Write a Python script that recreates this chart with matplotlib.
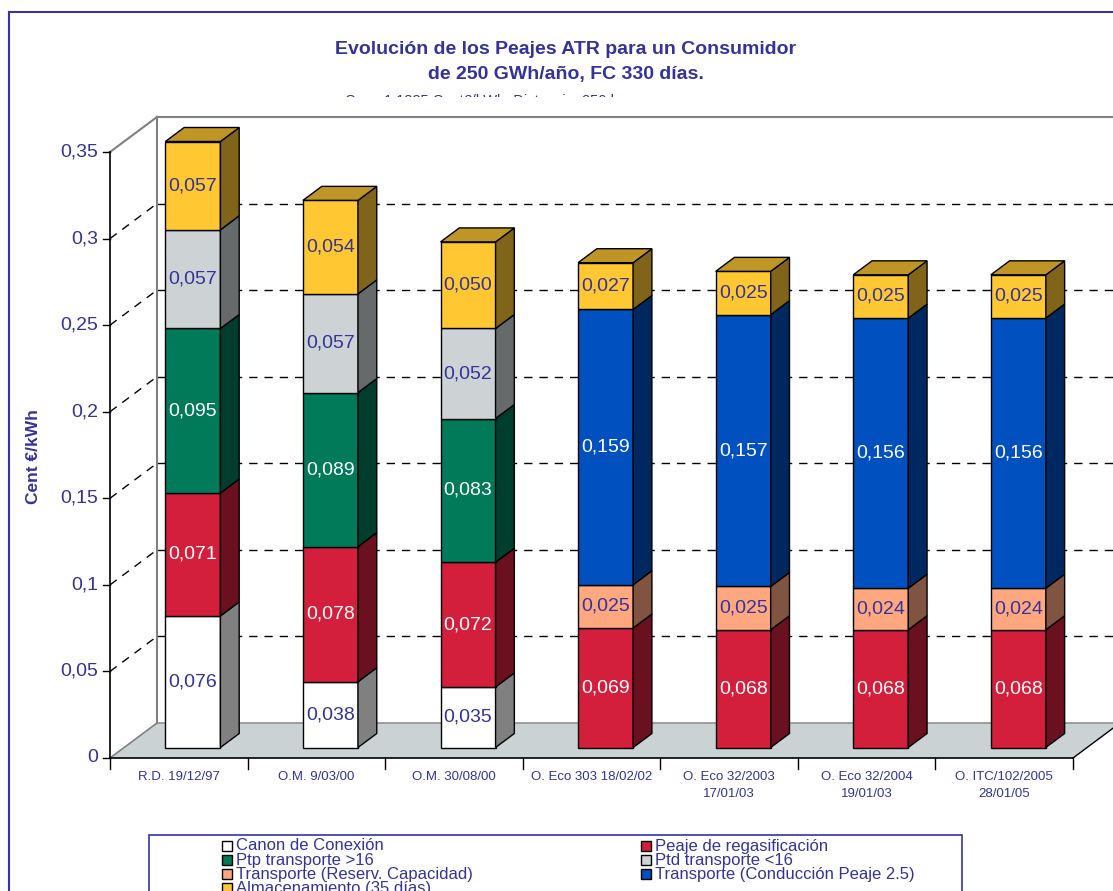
import matplotlib
matplotlib.use("Agg")
import matplotlib.pyplot as plt
from matplotlib.patches import Polygon
from matplotlib.lines import Line2D
from matplotlib.transforms import IdentityTransform
from matplotlib.colors import to_rgb

plt.rcParams['font.family'] = ['Liberation Sans', 'DejaVu Sans']

# ---- data -------------------------------------------------------------
categories = ["R.D. 19/12/97", "O.M. 9/03/00", "O.M. 30/08/00",
              "O. Eco 303 18/02/02", "O. Eco 32/2003\n17/01/03",
              "O. Eco 32/2004\n19/01/03", "O. ITC/102/2005\n28/01/05"]

canon_conexion = [0.076, 0.038, 0.035, 0, 0, 0, 0]
peaje_regasificacion = [0.071, 0.078, 0.072, 0.069, 0.068, 0.068, 0.068]
ptp_transporte = [0.095, 0.089, 0.083, 0, 0, 0, 0]
ptd_transporte = [0.057, 0.057, 0.052, 0, 0, 0, 0]
transporte_reserva = [0, 0, 0, 0.025, 0.025, 0.024, 0.024]
transporte_conduccion = [0, 0, 0, 0.159, 0.157, 0.156, 0.156]
almacenamiento = [0.057, 0.054, 0.050, 0.027, 0.025, 0.025, 0.025]

series_names = ["Canon de Conexión", "Peaje de regasificación",
                "Ptp transporte >16", "Ptd transporte <16",
                "Transporte (Reserv. Capacidad)",
                "Transporte (Conducción Peaje 2.5)",
                "Almacenamiento (35 días)"]
series_values = [canon_conexion, peaje_regasificacion, ptp_transporte,
                 ptd_transporte, transporte_reserva, transporte_conduccion,
                 almacenamiento]
series_colors = ["#FFFFFF", "#D41F3C", "#007A58", "#CDD3D5",
                 "#FFA880", "#0050BF", "#FFC833"]
label_colors = ["#333399", "white", "white", "#333399",
                "#333399", "white", "#333399"]

y_ticks = [0, 0.05, 0.1, 0.15, 0.2, 0.25, 0.3, 0.35]
y_max = 0.35

TXT = "#333399"

# ---- figure / axes ----------------------------------------------------
W, H = 1113, 891
fig = plt.figure(figsize=(W / 100, H / 100), dpi=100)
ax = fig.add_axes([110 / W, 1 - 758 / H, 963 / W, 606 / H])
n = len(categories)
ax.set_xlim(0, n)
ax.set_ylim(0, y_max)
ax.axis("off")

# depth direction of the 3-D box, in pixels
DX, DY = 47.0, 35.0
BAR_W = 0.4
D_FRONT, D_BACK = 0.30, 0.70


def pt(x, y, d):
    px, py = ax.transData.transform((x, y))
    return (px + d * DX, py + d * DY)


def poly(points, face, edge="black", lw=1.0, z=1):
    p = Polygon(points, closed=True, facecolor=face, edgecolor=edge,
                linewidth=lw, transform=IdentityTransform(), zorder=z,
                joinstyle="miter")
    fig.add_artist(p)


def line(p0, p1, color="black", lw=1.0, ls="-", z=2):
    ln = Line2D([p0[0], p1[0]], [p0[1], p1[1]], color=color, lw=lw,
                linestyle=ls, transform=IdentityTransform(), zorder=z)
    fig.add_artist(ln)


def shade(c, k):
    r, g, b = to_rgb(c)
    return (r * k, g * k, b * k)


# outer chart frame
fig.add_artist(Line2D([8.5 / W, 1.0], [1 - 11.5 / H] * 2, color="#3333AA",
                      lw=1.5, transform=fig.transFigure))
fig.add_artist(Line2D([8.5 / W] * 2, [0, 1 - 11.5 / H], color="#3333AA",
                      lw=1.5, transform=fig.transFigure))

# titles
fig.text(566 / W, 1 - 49 / H, "Evolución de los Peajes ATR para un Consumidor",
         ha="center", va="center", fontsize=14, fontweight="bold", color=TXT)
fig.text(566 / W, 1 - 74 / H, "de 250 GWh/año, FC 330 días.",
         ha="center", va="center", fontsize=14, fontweight="bold", color=TXT)
sub = fig.text(488 / W, 1 - 101 / H, "Cmp. 1,1325 Cent€/kWh. Distancia. 250 km",
               ha="center", va="center", fontsize=10.5, color=TXT, zorder=0)
# plot area covers the lower part of the subtitle
fig.add_artist(plt.Rectangle((0.12, 0), 0.88, 1 - 97 / H, facecolor="white",
                             edgecolor="none", transform=fig.transFigure,
                             zorder=0.5))

# back wall gridlines and top edge
for v in y_ticks[1:-1]:
    line(pt(0, v, 1), pt(n, v, 1), color="black", lw=1.0, ls=(0, (6, 5)), z=1)
    line(pt(0, v, 0), pt(0, v, 1), color="black", lw=1.0, ls=(0, (6, 5)), z=1)
line(pt(0, y_max, 1), pt(n, y_max, 1), color="#808080", lw=1.5, z=1)
line(pt(0, y_max, 0), pt(0, y_max, 1), color="#808080", lw=1.5, z=1)
line(pt(0, 0, 1), pt(0, y_max, 1), color="#808080", lw=1.5, z=1)

# floor
poly([pt(0, 0, 0), pt(n, 0, 0), pt(n, 0, 1), pt(0, 0, 1)],
     face="#CBD2D4", edge="none", z=1.2)
line(pt(0, 0, 1), pt(n, 0, 1), color="#909090", lw=1.2, z=1.3)
line(pt(0, 0, 0), pt(0, 0, 1), color="#808080", lw=1.2, z=1.3)
line(pt(n, 0, 0), pt(n, 0, 1), color="black", lw=1.0, z=1.3)

# front axes
line(pt(0, 0, 0), pt(0, y_max, 0), color="black", lw=1.2, z=3)
line(pt(0, 0, 0), pt(n, 0, 0), color="black", lw=1.2, z=3)
for v in y_ticks:
    x0, y0 = pt(0, v, 0)
    line((x0 - 7, y0), (x0, y0), color="black", lw=1.0, z=3)
    fig.text((x0 - 12) / W, y0 / H, f"{v:g}".replace(".", ","),
             ha="right", va="center", fontsize=14, color=TXT)
for i in range(n + 1):
    x0, y0 = pt(i, 0, 0)
    line((x0, y0), (x0, y0 - 11), color="black", lw=1.0, z=3)
for i, cat in enumerate(categories):
    x0, y0 = pt(i + 0.5, 0, 0)
    fig.text(x0 / W, (y0 - 13) / H, cat, ha="center", va="top",
             fontsize=9.5, color=TXT, linespacing=1.55)

fig.text(33 / W, 1 - 457 / H, "Cent €/kWh", rotation=90, ha="center",
         va="center", fontsize=12.5, fontweight="bold", color=TXT)

# stacked 3-D bars
for i in range(n):
    xl = i + 0.5 - BAR_W / 2
    xr = i + 0.5 + BAR_W / 2
    base = 0.0
    segs = []
    for s, vals in enumerate(series_values):
        v = vals[i]
        if v <= 0:
            continue
        y0 = min(base, y_max)
        y1 = min(base + v, y_max)
        segs.append((s, v, y0, y1))
        base += v
    for k, (s, v, y0, y1) in enumerate(segs):
        col = series_colors[s]
        poly([pt(xl, y0, D_FRONT), pt(xr, y0, D_FRONT),
              pt(xr, y1, D_FRONT), pt(xl, y1, D_FRONT)], face=col, z=4)
        poly([pt(xr, y0, D_FRONT), pt(xr, y0, D_BACK),
              pt(xr, y1, D_BACK), pt(xr, y1, D_FRONT)],
             face=shade(col, 0.5), z=4)
        if k == len(segs) - 1:
            poly([pt(xl, y1, D_FRONT), pt(xr, y1, D_FRONT),
                  pt(xr, y1, D_BACK), pt(xl, y1, D_BACK)],
                 face=shade(col, 0.75), z=4)
        cx, cy = pt(i + 0.5, (y0 + y1) / 2, D_FRONT)
        fig.text(cx / W, cy / H, f"{v:.3f}".replace(".", ","), ha="center",
                 va="center", fontsize=14, color=label_colors[s], zorder=5)

# legend
fig.add_artist(plt.Rectangle((148.5 / W, -0.05), (962 - 148.5) / W,
                             0.05 + (891 - 834.5) / H, facecolor="white",
                             edgecolor="#3333AA", lw=1.2,
                             transform=fig.transFigure, zorder=6))
col_x = [222, 641]
row_y = [846, 860, 874, 888]
for s, name in enumerate(series_names):
    r, c = divmod(s, 2)
    mx, my = col_x[c], row_y[r]
    fig.add_artist(plt.Rectangle((mx / W, (H - my - 5) / H), 10 / W, 10 / H,
                                 facecolor=series_colors[s], edgecolor="black",
                                 lw=1.0, transform=fig.transFigure, zorder=7))
    fig.text((mx + 14) / W, (H - my) / H, name, ha="left", va="center",
             fontsize=12, color=TXT, zorder=7)

fig.savefig("out.png", dpi=100)
